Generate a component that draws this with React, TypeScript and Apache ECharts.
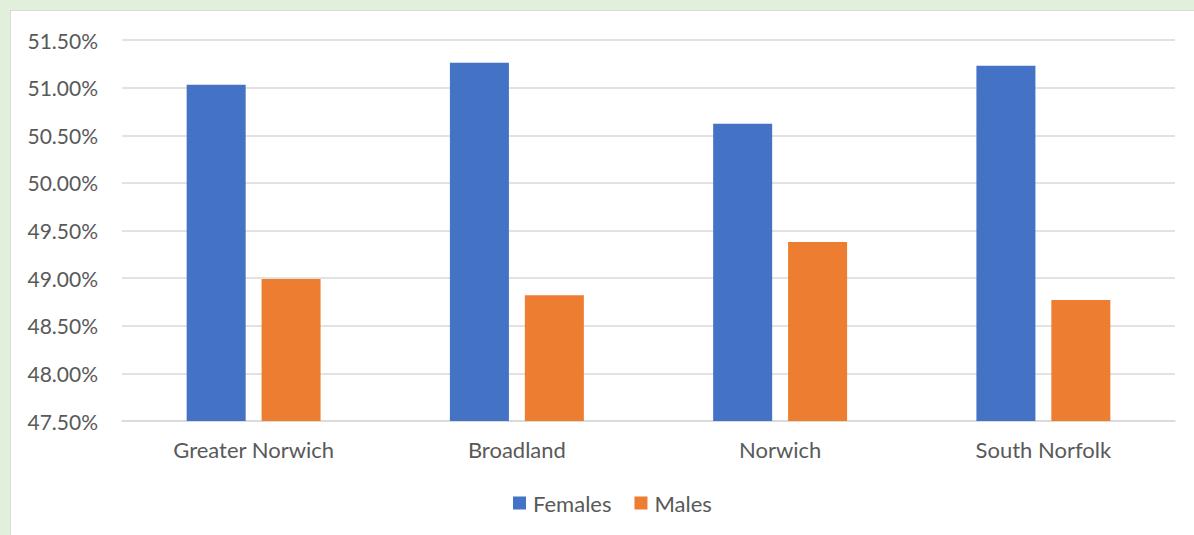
import React, { useEffect, useRef } from "react";
import * as echarts from "echarts";

const categories = ["Greater Norwich", "Broadland", "Norwich", "South Norfolk"];
const females = [51.03, 51.26, 50.62, 51.23];
const males = [48.99, 48.82, 49.38, 48.77];
const seriesNames = ["Females", "Males"];

const FONT = "Lato, 'Open Sans', sans-serif";
const TEXT = "#595959";

export default function App() {
  const ref = useRef<HTMLDivElement>(null);

  useEffect(() => {
    document.body.style.margin = "0";
    const chart = echarts.init(ref.current!, null, { renderer: "svg" });
    chart.setOption({
      animation: false,
      backgroundColor: "#ffffff",
      textStyle: { fontFamily: FONT, color: TEXT },
      grid: { left: 111, right: 19, top: 29, bottom: 114, containLabel: false },
      legend: {
        data: seriesNames,
        left: 497,
        top: 476,
        itemWidth: 13,
        itemHeight: 13,
        itemGap: 23,
        icon: "rect",
        textStyle: { fontFamily: FONT, fontSize: 22, color: TEXT, padding: [0, 0, 0, 2] },
      },
      xAxis: {
        type: "category",
        data: categories,
        axisLine: { show: true, lineStyle: { color: "#D9D9D9", width: 1.5 } },
        axisTick: { show: false },
        axisLabel: { fontFamily: FONT, fontSize: 22, color: TEXT, margin: 17 },
      },
      yAxis: {
        type: "value",
        min: 47.5,
        max: 51.5,
        interval: 0.5,
        axisLine: { show: false },
        axisTick: { show: false },
        splitLine: { lineStyle: { color: "#D9D9D9", width: 1.5 } },
        axisLabel: {
          fontFamily: FONT,
          fontSize: 21,
          color: TEXT,
          margin: 24,
          formatter: (v: number) => v.toFixed(2) + "%",
        },
      },
      series: [
        {
          name: seriesNames[0],
          type: "bar",
          data: females,
          barWidth: 59,
          barGap: "27%",
          itemStyle: { color: "#4472C4" },
        },
        {
          name: seriesNames[1],
          type: "bar",
          data: males,
          barWidth: 59,
          itemStyle: { color: "#ED7D31" },
        },
      ],
    });
    return () => chart.dispose();
  }, []);

  return (
    <div style={{ position: "relative", width: 1194, height: 535, background: "#E2EFDA", overflow: "hidden" }}>
      <div
        style={{
          position: "absolute",
          left: 10,
          top: 10,
          width: 1184,
          height: 525,
          borderLeft: "1px solid #D9D9D9",
          borderTop: "1px solid #D9D9D9",
          background: "#fff",
        }}
      >
        <div ref={ref} style={{ width: 1183, height: 524 }} />
      </div>
    </div>
  );
}
